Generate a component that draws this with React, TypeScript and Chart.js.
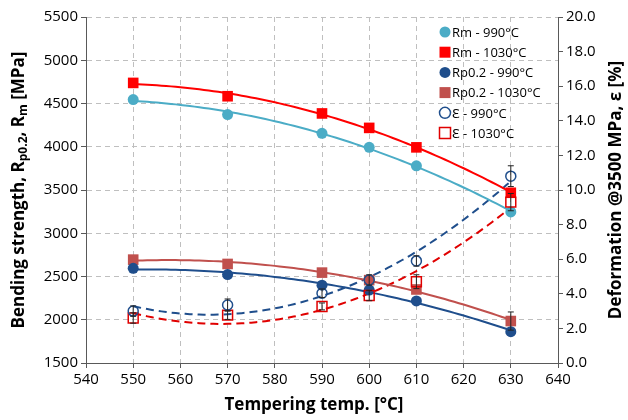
import React, { useEffect, useRef } from "react";
import { Chart, registerables } from "chart.js";

Chart.register(...registerables);

// Tempering temperatures [°C]
const temps = [550, 570, 590, 600, 610, 630];

// Bending strength [MPa]
const rm990 = [4545, 4372, 4155, 3993, 3780, 3246];
const rm1030 = [4738, 4584, 4385, 4218, 3993, 3468];
const rp990 = [2595, 2522, 2400, 2343, 2217, 1862];
const rp1030 = [2695, 2645, 2545, 2458, 2350, 1985];

// Deformation at 3500 MPa [%]
const eps990 = [3.0, 3.35, 4.03, 4.8, 5.9, 10.8];
const eps1030 = [2.6, 2.77, 3.27, 3.9, 4.7, 9.3];

// Scatter (± half-range) of the measurements
const rp1030Err = [0, 0, 0, 0, 0, 105];
const eps990Err = [0.3, 0.35, 0.25, 0.3, 0.3, 0.6];
const eps1030Err = [0.3, 0.25, 0.2, 0.3, 0.4, 0.5];

// Series names
const seriesLabels = [
  "Rm - 990°C",
  "Rm - 1030°C",
  "Rp0.2 - 990°C",
  "Rp0.2 - 1030°C",
  "Ɛ - 990°C",
  "Ɛ - 1030°C",
];

// Axis titles
const xTitle = "Tempering temp. [°C]";
const yTitleParts: [string, boolean][] = [
  ["Bending strength, R", false],
  ["p0.2", true],
  [", R", false],
  ["m", true],
  [" [MPa]", false],
];
const y1Title = "Deformation @3500 MPa, ε [%]";

const FONT = "'Open Sans', 'Noto Sans', sans-serif";

const C_RM990 = "#4BACC6";
const C_RM1030 = "#FF0000";
const C_RP990 = "#1F4E8C";
const C_RP1030 = "#C0504D";
const C_E990 = "#1F4E8C";
const C_E1030 = "#E00000";

// Least-squares polynomial trend line
function polyfit(xs: number[], ys: number[], deg: number): number[] {
  const n = deg + 1;
  const A: number[][] = Array.from({ length: n }, () => new Array(n + 1).fill(0));
  xs.forEach((x, k) => {
    const u = x - 590;
    for (let i = 0; i < n; i++) {
      for (let j = 0; j < n; j++) A[i][j] += Math.pow(u, i + j);
      A[i][n] += Math.pow(u, i) * ys[k];
    }
  });
  for (let c = 0; c < n; c++) {
    let p = c;
    for (let r = c + 1; r < n; r++) if (Math.abs(A[r][c]) > Math.abs(A[p][c])) p = r;
    [A[c], A[p]] = [A[p], A[c]];
    for (let r = 0; r < n; r++) {
      if (r === c) continue;
      const f = A[r][c] / A[c][c];
      for (let k = c; k <= n; k++) A[r][k] -= f * A[c][k];
    }
  }
  return A.map((row, i) => row[n] / row[i]);
}

function trendPoints(ys: number[], deg: number) {
  const coef = polyfit(temps, ys, deg);
  const pts: { x: number; y: number }[] = [];
  for (let t = temps[0]; t <= temps[temps.length - 1]; t += 1) {
    const u = t - 590;
    let v = 0;
    coef.forEach((c, i) => (v += c * Math.pow(u, i)));
    pts.push({ x: t, y: v });
  }
  return pts;
}

function trend(ys: number[], color: string, axis: string, dashed: boolean) {
  return {
    type: "line" as const,
    data: trendPoints(ys, 2),
    borderColor: color,
    borderWidth: 2,
    borderDash: dashed ? [8, 5] : [],
    pointRadius: 0,
    tension: 0,
    yAxisID: axis,
    order: 10,
  };
}

function markers(
  label: string,
  ys: number[],
  axis: string,
  style: "circle" | "rect",
  radius: number,
  fill: string,
  stroke: string,
  order: number,
  errors?: number[]
) {
  return {
    type: "scatter" as const,
    label,
    data: temps.map((t, i) => ({ x: t, y: ys[i] })),
    yAxisID: axis,
    pointStyle: style,
    pointRadius: radius,
    backgroundColor: fill,
    borderColor: stroke,
    borderWidth: fill === stroke ? 0 : 1.5,
    order,
    errors,
    isMarker: true,
  };
}

const decorations = {
  id: "decorations",
  afterDatasetsDraw(chart: any) {
    const ctx = chart.ctx;
    ctx.save();
    ctx.strokeStyle = "#222";
    ctx.lineWidth = 1;
    chart.data.datasets.forEach((ds: any, i: number) => {
      if (!ds.errors) return;
      const meta = chart.getDatasetMeta(i);
      const scale = chart.scales[ds.yAxisID];
      ds.data.forEach((p: any, j: number) => {
        const e = ds.errors[j];
        if (!e) return;
        const x = meta.data[j].x;
        const y1 = scale.getPixelForValue(p.y + e);
        const y2 = scale.getPixelForValue(p.y - e);
        ctx.beginPath();
        ctx.moveTo(x, y1);
        ctx.lineTo(x, y2);
        ctx.moveTo(x - 3, y1);
        ctx.lineTo(x + 3, y1);
        ctx.moveTo(x - 3, y2);
        ctx.lineTo(x + 3, y2);
        ctx.stroke();
      });
    });
    ctx.restore();
  },
  afterDraw(chart: any) {
    const ctx = chart.ctx;
    const area = chart.chartArea;
    ctx.save();
    ctx.fillStyle = "#000";

    // x-axis title
    ctx.font = `bold 17px ${FONT}`;
    ctx.textAlign = "center";
    ctx.textBaseline = "middle";
    ctx.fillText(xTitle, chart.width / 2, 405);

    // left axis title with subscripts
    const big = `bold 17px ${FONT}`;
    const small = `bold 12px ${FONT}`;
    let total = 0;
    yTitleParts.forEach(([s, sub]) => {
      ctx.font = sub ? small : big;
      total += ctx.measureText(s).width;
    });
    ctx.save();
    ctx.translate(19, (area.top + area.bottom) / 2);
    ctx.rotate(-Math.PI / 2);
    ctx.textAlign = "left";
    let cx = -total / 2;
    yTitleParts.forEach(([s, sub]) => {
      ctx.font = sub ? small : big;
      ctx.fillText(s, cx, sub ? 5 : 0);
      cx += ctx.measureText(s).width;
    });
    ctx.restore();

    // right axis title
    ctx.save();
    ctx.translate(616, (area.top + area.bottom) / 2);
    ctx.rotate(-Math.PI / 2);
    ctx.font = big;
    ctx.textAlign = "center";
    ctx.fillText(y1Title, 0, 0);
    ctx.restore();

    // legend inside the plot area
    const lx = 445;
    let ly = 32;
    ctx.font = `13px ${FONT}`;
    ctx.textAlign = "left";
    chart.data.datasets.forEach((ds: any) => {
      if (!ds.isMarker) return;
      ctx.beginPath();
      if (ds.pointStyle === "circle") {
        ctx.arc(lx, ly, 5.5, 0, Math.PI * 2);
      } else {
        ctx.rect(lx - 5.5, ly - 5.5, 11, 11);
      }
      if (ds.backgroundColor !== "rgba(255,255,255,0)") {
        ctx.fillStyle = ds.backgroundColor;
        ctx.fill();
      }
      if (ds.borderWidth) {
        ctx.strokeStyle = ds.borderColor;
        ctx.lineWidth = 1.5;
        ctx.stroke();
      }
      ctx.fillStyle = "#000";
      ctx.fillText(ds.label, lx + 7, ly + 1);
      ly += 20.2;
    });
    ctx.restore();
  },
};

export default function App() {
  const ref = useRef<HTMLCanvasElement | null>(null);

  useEffect(() => {
    if (!ref.current) return;
    const gridColor = "#BFBFBF";
    const axisColor = "#595959";
    const tickFont = { family: FONT, size: 15 };

    const chart = new Chart(ref.current, {
      type: "scatter",
      data: {
        datasets: [
          trend(rm990, C_RM990, "y", false),
          trend(rm1030, C_RM1030, "y", false),
          trend(rp990, C_RP990, "y", false),
          trend(rp1030, C_RP1030, "y", false),
          trend(eps990, C_E990, "y1", true),
          trend(eps1030, C_E1030, "y1", true),
          markers(seriesLabels[0], rm990, "y", "circle", 5.5, C_RM990, C_RM990, 5),
          markers(seriesLabels[1], rm1030, "y", "rect", 7.5, C_RM1030, C_RM1030, 5),
          markers(seriesLabels[2], rp990, "y", "circle", 5.5, C_RP990, C_RP990, 5),
          markers(seriesLabels[3], rp1030, "y", "rect", 7.5, C_RP1030, C_RP1030, 5, rp1030Err),
          markers(seriesLabels[4], eps990, "y1", "circle", 5, "rgba(255,255,255,0)", C_E990, 1, eps990Err),
          markers(seriesLabels[5], eps1030, "y1", "rect", 7, "rgba(255,255,255,0)", C_E1030, 1, eps1030Err),
        ] as any,
      },
      options: {
        responsive: false,
        animation: false,
        events: [],
        layout: { padding: { top: 17, left: 0, right: 0, bottom: 0 } },
        plugins: { legend: { display: false }, tooltip: { enabled: false } },
        scales: {
          x: {
            type: "linear",
            min: 540,
            max: 640,
            ticks: {
              stepSize: 10,
              font: tickFont,
              color: "#000",
              padding: 3,
              maxRotation: 0,
              callback: (v: any) => String(v),
            },
            grid: {
              color: gridColor,
              tickColor: axisColor,
              tickLength: 5,
              tickBorderDash: [],
            },
            border: { display: true, color: axisColor, width: 1, dash: [5, 4] },
            afterFit: (s: any) => {
              s.height = 57;
            },
          },
          y: {
            type: "linear",
            position: "left",
            min: 1500,
            max: 5500,
            ticks: {
              stepSize: 500,
              font: tickFont,
              color: "#000",
              padding: 3,
              callback: (v: any) => String(v),
            },
            grid: {
              color: gridColor,
              tickColor: axisColor,
              tickLength: 5,
              tickBorderDash: [],
            },
            border: { display: true, color: axisColor, width: 1, dash: [5, 4] },
            afterFit: (s: any) => {
              s.width = 86;
            },
          },
          y1: {
            type: "linear",
            position: "right",
            min: 0,
            max: 20,
            ticks: {
              stepSize: 2,
              font: tickFont,
              color: "#000",
              padding: 3,
              callback: (v: any) => Number(v).toFixed(1),
            },
            grid: {
              drawOnChartArea: false,
              tickColor: axisColor,
              tickLength: 5,
            },
            border: { display: true, color: axisColor, width: 1 },
            afterFit: (s: any) => {
              s.width = 70;
            },
          },
        },
      },
      plugins: [decorations],
    });
    return () => chart.destroy();
  }, []);

  return (
    <div style={{ position: "fixed", left: 0, top: 0, width: 628, height: 420, background: "#fff" }}>
      <canvas ref={ref} width={628} height={420} style={{ display: "block" }} />
    </div>
  );
}
